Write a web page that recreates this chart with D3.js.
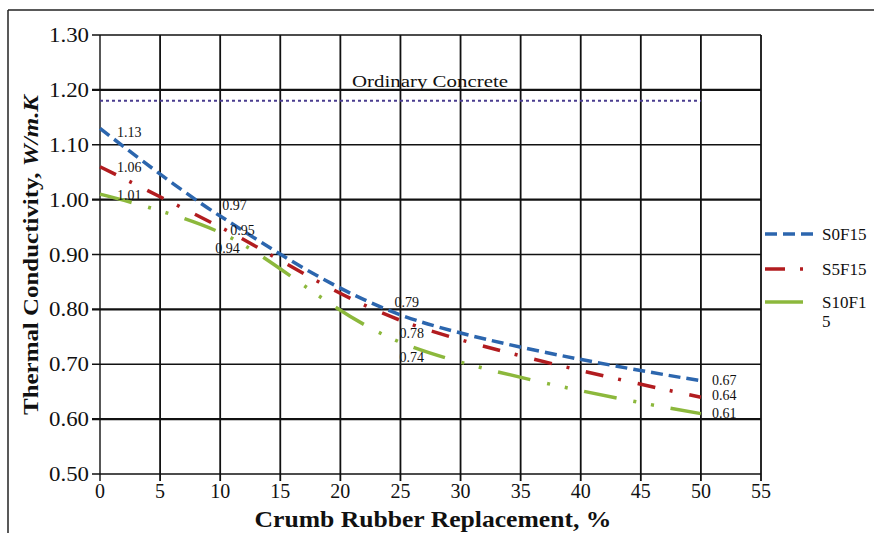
<!DOCTYPE html>
<html>
<head>
<meta charset="utf-8">
<script src="https://cdn.jsdelivr.net/npm/d3@7"></script>
<style>
  body { margin: 0; background: #fff; }
  svg { display: block; }
  text { font-family: "Liberation Serif", "DejaVu Serif", serif; fill: #111; }
</style>
</head>
<body>
<div id="chart"></div>
<script>
var width = 874,
height = 533;

// data
var replacement = [0, 10, 25, 50];
var seriesNames = ["S0F15", "S5F15", "S10F15"];
var s0f15 = [1.13, 0.97, 0.79, 0.67];
var s5f15 = [1.06, 0.95, 0.78, 0.64];
var s10f15 = [1.01, 0.94, 0.74, 0.61];
var ordinaryConcrete = 1.18;
var xTicks = [0, 5, 10, 15, 20, 25, 30, 35, 40, 45, 50, 55];
var yTicks = [0.5, 0.6, 0.7, 0.8, 0.9, 1.0, 1.1, 1.2, 1.3];

var series = [s0f15, s5f15, s10f15];
var colors = ["#2c66ae", "#b21c1f", "#8cb83c"];
var dashes = ["12,6", "18,15,3,17", "33,17,3,15,3,17"];
// label offsets from the point (dx, dy) per series / point
var labelOff = [
  [[17, 9], [2, -6], [-6, -8], [11, 4]],
  [[17, 5], [10, 8], [-1, 18], [11, 3]],
  [[17, 6], [-5, 20], [-1, 20], [11, 4]]
];

var x = d3.scaleLinear().domain([0, 55]).range([100, 761]);
var y = d3.scaleLinear().domain([0.5, 1.3]).range([474, 35]);

var svg = d3.select("#chart").append("svg")
  .attr("width", width)
  .attr("height", height);

// outer frame (top + left only visible)
svg.append("line").attr("x1", 8).attr("x2", 874).attr("y1", 10).attr("y2", 10)
  .attr("stroke", "#222").attr("stroke-width", 1.5);
svg.append("line").attr("x1", 8).attr("x2", 8).attr("y1", 10).attr("y2", 533)
  .attr("stroke", "#222").attr("stroke-width", 1.5);

// grid
svg.append("g").selectAll("line").data(yTicks).enter().append("line")
  .attr("x1", x(0) - 8).attr("x2", x(55))
  .attr("y1", function(d) { return y(d); })
  .attr("y2", function(d) { return y(d); })
  .attr("stroke", "#111")
  .attr("stroke-width", function(d) { return (Math.round(d * 10) % 2 == 0) ? 2.2 : 1.6; });

svg.append("g").selectAll("line").data(xTicks).enter().append("line")
  .attr("x1", function(d) { return x(d); })
  .attr("x2", function(d) { return x(d); })
  .attr("y1", y(1.3)).attr("y2", y(0.5) + 7)
  .attr("stroke", "#111")
  .attr("stroke-width", function(d) { return d == 0 ? 1.4 : 1.8; });

// tick labels
svg.append("g").selectAll("text").data(yTicks).enter().append("text")
  .attr("x", 89)
  .attr("y", function(d) { return y(d) + 7; })
  .attr("text-anchor", "end")
  .attr("textLength", 40).attr("lengthAdjust", "spacingAndGlyphs")
  .style("font-size", "20px")
  .text(function(d) { return d.toFixed(2); });

svg.append("g").selectAll("text").data(xTicks).enter().append("text")
  .attr("x", function(d) { return x(d); })
  .attr("y", 498)
  .attr("text-anchor", "middle")
  .style("font-size", "20px")
  .text(function(d) { return d; });

// axis titles
svg.append("text")
  .attr("x", 433).attr("y", 527)
  .attr("text-anchor", "middle")
  .attr("textLength", 357).attr("lengthAdjust", "spacingAndGlyphs")
  .style("font-size", "23px").style("font-weight", "bold")
  .text("Crumb Rubber Replacement, %");

var yt = svg.append("text")
  .attr("transform", "translate(38,255) rotate(-90)")
  .attr("text-anchor", "middle")
  .attr("textLength", 320).attr("lengthAdjust", "spacingAndGlyphs")
  .style("font-size", "22px").style("font-weight", "bold");
yt.append("tspan").text("Thermal Conductivity, ");
yt.append("tspan").style("font-style", "italic").text("W/m.K");

// ordinary concrete reference
svg.append("line")
  .attr("x1", x(0)).attr("x2", x(50))
  .attr("y1", y(ordinaryConcrete)).attr("y2", y(ordinaryConcrete))
  .attr("stroke", "#4a3d8f").attr("stroke-width", 2)
  .attr("stroke-dasharray", "3,3");
svg.append("text")
  .attr("x", 430).attr("y", 87)
  .attr("text-anchor", "middle")
  .attr("textLength", 156).attr("lengthAdjust", "spacingAndGlyphs")
  .style("font-size", "17px")
  .text("Ordinary Concrete");

// series lines
var line = d3.line()
  .x(function(d, i) { return x(replacement[i]); })
  .y(function(d) { return y(d); })
  .curve(d3.curveCatmullRom);

svg.append("g").selectAll("path").data(series).enter().append("path")
  .attr("d", line)
  .attr("fill", "none")
  .attr("stroke", function(d, i) { return colors[i]; })
  .attr("stroke-width", 3.5)
  .attr("stroke-dasharray", function(d, i) { return dashes[i]; });

// data labels
series.forEach(function(s, si) {
  svg.append("g").selectAll("text").data(s).enter().append("text")
    .attr("x", function(d, i) { return x(replacement[i]) + labelOff[si][i][0]; })
    .attr("y", function(d, i) { return y(d) + labelOff[si][i][1]; })
    .style("font-size", "14px")
    .text(function(d) { return d.toFixed(2); });
});

// legend
var legendY = [234, 269, 302];
var lg = svg.append("g").selectAll("g").data(seriesNames).enter().append("g");
lg.append("line")
  .attr("x1", 765).attr("x2", function(d, i) { return i == 0 ? 818 : 803; })
  .attr("y1", function(d, i) { return legendY[i]; })
  .attr("y2", function(d, i) { return legendY[i]; })
  .attr("stroke", function(d, i) { return colors[i]; })
  .attr("stroke-width", 3.5)
  .attr("stroke-dasharray", function(d, i) { return ["12,6", "20,15,3,20", "40"][i]; });
lg.append("text")
  .attr("x", 822)
  .attr("y", function(d, i) { return legendY[i] + 6; })
  .style("font-size", "17px")
  .text(function(d) { return d == "S10F15" ? "S10F1" : d; });
svg.append("text")
  .attr("x", 822).attr("y", legendY[2] + 25)
  .style("font-size", "17px")
  .text("5");
</script>
</body>
</html>
